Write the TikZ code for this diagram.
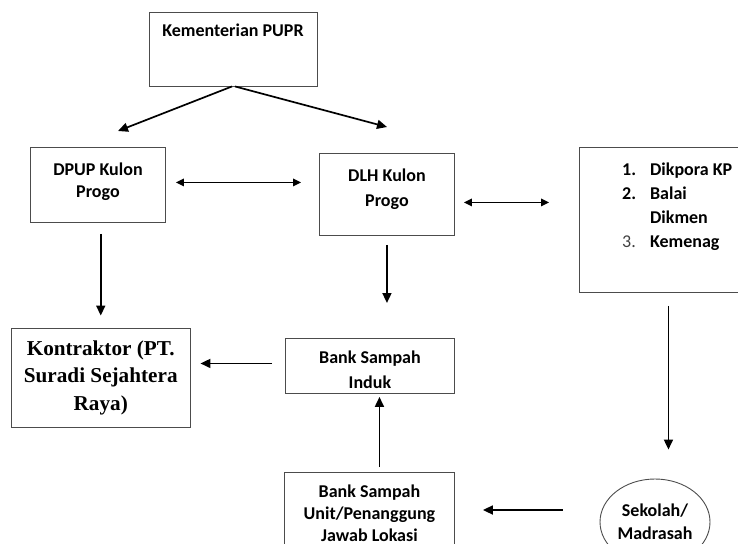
\documentclass[tikz,border=0pt]{standalone}
\usepackage{fontspec}
\setmainfont{Carlito}
\newfontfamily\serifbf{Liberation Serif}
\usetikzlibrary{positioning,arrows.meta,shapes.geometric}

\tikzset{
  box/.style={draw=black!70, line width=0.9pt, inner sep=0pt},
  lbl/.style={anchor=north, align=center, inner sep=0pt, font=\bfseries\fontsize{18}{#1}\selectfont},
  arr/.style={-{Triangle[length=10pt,width=9pt]}, line width=1.7pt},
  darr/.style={{Triangle[length=8pt,width=7.5pt]}-{Triangle[length=8pt,width=7.5pt]}, line width=1.5pt},
}

\begin{document}
\begin{tikzpicture}[x=1pt, y=-1pt]
  \useasboundingbox (0,0) rectangle (738,543);
  \clip (0,0) rectangle (738,543);

  % boxes
  \node [box, minimum width=168, minimum height=74,
         label={[lbl=22, yshift=-12pt]north:Kementerian PUPR}] (pupr) at (233,49) {};
  \node [box, anchor=north west, minimum width=135, minimum height=75,
         label={[lbl=22.6, yshift=-15.5pt]north:{DPUP Kulon\\Progo}}] (dpup) at (30,147) {};
  \node [box, anchor=north west, minimum width=135, minimum height=82,
         label={[lbl=25, yshift=-16pt]north:{DLH Kulon\\Progo}}] (dlh) at (319,153) {};
  \node [box, anchor=north west, minimum width=178, minimum height=145,
         label={[anchor=north west, inner sep=0pt, xshift=43pt, yshift=-11pt,
                 font=\bfseries\fontsize{18}{24.2}\selectfont]north west:{%
           \begin{tabular}{@{}l@{\hspace{14pt}}l@{}}
             1. & Dikpora KP\\
             2. & Balai\\
                & Dikmen\\
             {\mdseries\color{black!75}3.} & Kemenag
           \end{tabular}}}] (dinas) at (579,147) {};
  \node [box, minimum width=178.5, minimum height=99, align=center,
         font=\serifbf\bfseries\fontsize{21.2}{27.5}\selectfont] (kontraktor) at (100.75,377.5)
         {Kontraktor (PT.\\Suradi Sejahtera\\Raya)};
  \node [box, anchor=north west, minimum width=169, minimum height=55,
         label={[lbl=25, yshift=-12.5pt]north:{Bank Sampah\\Induk}}] (induk) at (285,338) {};
  \node [box, anchor=north west, minimum width=170, minimum height=90,
         label={[lbl=22, yshift=-12.5pt]north:{Bank Sampah\\Unit/Penanggung\\Jawab Lokasi}}] (unit) at (284,472) {};
  \node [box, ellipse, minimum width=110, minimum height=86, align=center,
         font=\bfseries\fontsize{18}{23}\selectfont] (sekolah) at (655,522) {Sekolah/\\Madrasah};

  % connectors
  \coordinate (dpupin) at (118,131);
  \coordinate (dlhin) at (387,127);
  \draw [arr] ([xshift=-1pt]pupr.south) -- (dpupin);
  \draw [arr] ([xshift=2pt]pupr.south) -- (dlhin);
  \draw [darr, shorten <=10pt, shorten >=18pt] ([yshift=2.5pt]dpup.east) -- ([yshift=2.5pt]dpup.east -| dlh.west);
  \draw [darr, shorten <=9pt, shorten >=30pt] ([yshift=-8pt]dlh.east) -- ([yshift=-8pt]dlh.east -| dinas.west);
  \draw [arr, shorten <=11pt, shorten >=12pt] (dpup.south -| kontraktor.north) -- (kontraktor.north);
  \draw [arr, shorten <=9pt, shorten >=35pt] (dlh.south) -- (dlh.south |- induk.north);
  \draw [arr, shorten <=13pt, shorten >=10pt] ([yshift=2.5pt]induk.west) -- ([yshift=2.5pt]induk.west -| kontraktor.east);
  \draw [arr, shorten <=5pt, shorten >=3pt] ([xshift=10pt]unit.north) -- ([xshift=10pt]unit.north |- induk.south);
  \draw [arr, shorten <=13pt, shorten >=29pt] (dinas.south) -- (dinas.south |- sekolah.north);
  \draw [arr, shorten <=37pt, shorten >=28pt] ([yshift=12pt]sekolah.west) -- ([yshift=12pt]sekolah.west -| unit.east);
\end{tikzpicture}
\end{document}
